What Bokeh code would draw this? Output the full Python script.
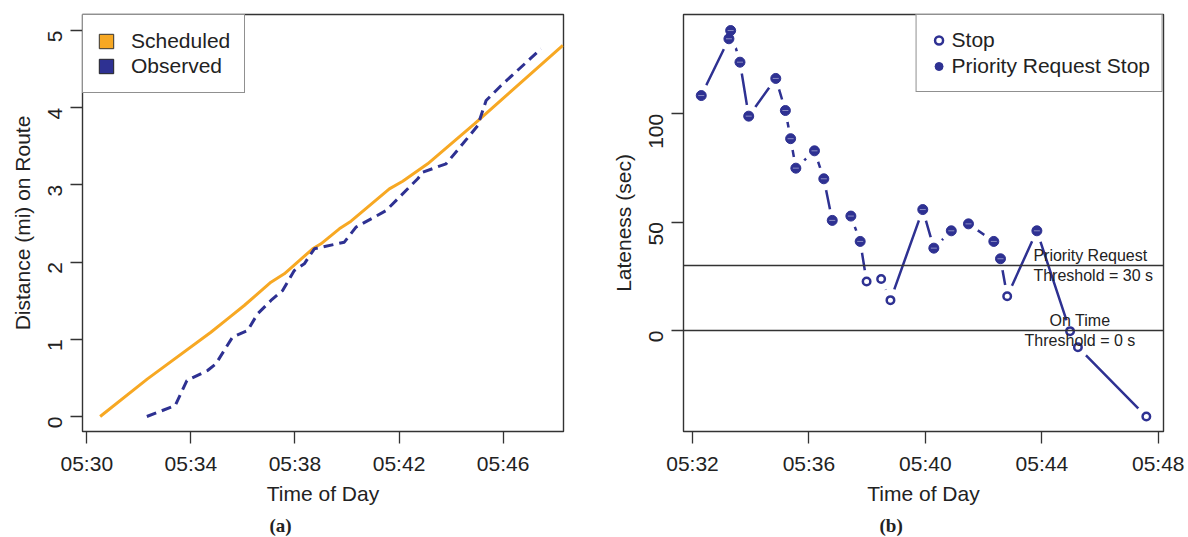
import math
from bokeh.plotting import figure
from bokeh.layouts import row
from bokeh.models import (ColumnDataSource, Range1d, FixedTicker, Legend, LegendItem,
                          Span, Label, Title)
from bokeh.embed import file_html
from bokeh.resources import INLINE

# ---------------- data: panel (a) ----------------
sched_t = [30.513, 32.333, 34.769, 35.41, 36.05, 37.077, 37.59, 38.68, 39.0, 39.705,
           40.154, 41.628, 42.141, 43.10, 44.897, 48.295]
sched_d = [0.0, 0.488, 1.092, 1.265, 1.438, 1.740, 1.848, 2.172, 2.237, 2.431,
           2.530, 2.949, 3.048, 3.273, 3.791, 4.806]
obs_t = [32.308, 33.397, 33.846, 34.641, 34.96, 35.60, 36.18, 36.564, 37.077, 37.526,
         37.974, 38.359, 38.744, 39.897, 40.346, 41.05, 41.5, 42.718, 42.91, 43.808,
         44.449, 45.026, 45.346, 45.923, 47.46]
obs_d = [0.0, 0.142, 0.466, 0.596, 0.682, 1.028, 1.114, 1.330, 1.503, 1.632,
         1.891, 1.978, 2.172, 2.258, 2.453, 2.582, 2.668, 3.079, 3.165, 3.273,
         3.532, 3.769, 4.093, 4.288, 4.763]
a_xticks = [30, 34, 38, 42, 46]
a_xlabels = ["05:30", "05:34", "05:38", "05:42", "05:46"]
a_yticks = [0, 1, 2, 3, 4, 5]

# ---------------- data: panel (b) ----------------
lat_t = [32.30, 33.25, 33.31, 33.63, 33.93, 34.86, 35.19, 35.37, 35.55, 36.19,
         36.51, 36.80, 37.44, 37.76, 37.98, 38.48, 38.80, 39.91, 40.29, 40.89,
         41.48, 42.35, 42.58, 42.81, 43.83, 44.97, 45.24, 47.59]
lat_s = [108.4, 134.6, 138.4, 123.8, 98.9, 116.3, 101.5, 88.5, 74.9, 82.9,
         70.0, 50.8, 52.8, 41.1, 22.6, 23.8, 14.0, 55.8, 38.0, 46.0,
         49.2, 41.1, 33.1, 15.8, 46.0, -0.3, -7.7, -39.7]
priority = [1, 1, 1, 1, 1, 1, 1, 1, 1, 1, 1, 1, 1, 1, 0, 0, 0, 1, 1, 1,
            1, 1, 1, 0, 1, 0, 0, 0]
b_xticks = [32, 36, 40, 44, 48]
b_xlabels = ["05:32", "05:36", "05:40", "05:44", "05:48"]
b_yticks = [0, 50, 100]
thresholds = [30, 0]

ORANGE = "#F7A823"
BLUE = "#2E3192"
INK = "#222222"
FONT = "Liberation Sans"
NAN = float("nan")


def style(p, xticks, xlabels, yticks, xlabel, ylabel):
    p.grid.visible = False
    p.outline_line_color = "#333333"
    p.outline_line_width = 1.4
    p.background_fill_color = "white"
    p.border_fill_color = "white"
    p.xaxis.ticker = FixedTicker(ticks=xticks)
    p.xaxis.major_label_overrides = {t: l for t, l in zip(xticks, xlabels)}
    p.yaxis.ticker = FixedTicker(ticks=yticks)
    p.yaxis.major_label_orientation = math.pi / 2
    p.xaxis.axis_label = xlabel
    p.yaxis.axis_label = ylabel
    for ax in (p.xaxis[0], p.yaxis[0]):
        ax.axis_line_color = None
        ax.major_tick_out = 12
        ax.major_tick_in = 0
        ax.minor_tick_out = 0
        ax.minor_tick_in = 0
        ax.major_tick_line_color = "#333333"
        ax.major_tick_line_width = 1.3
        ax.major_label_text_font = FONT
        ax.major_label_text_font_size = "21px"
        ax.major_label_text_color = INK
        ax.axis_label_text_font = FONT
        ax.axis_label_text_font_size = "21px"
        ax.axis_label_text_font_style = "normal"
        ax.axis_label_text_color = INK
    p.xaxis.major_label_standoff = 8
    p.xaxis.axis_label_standoff = 4
    p.yaxis.major_label_standoff = 15
    p.yaxis.axis_label_standoff = 5


# ---------------- panel (a) ----------------
pa = figure(frame_width=481, frame_height=417, min_border_left=82, min_border_right=41,
            min_border_top=14, min_border_bottom=104,
            x_range=Range1d(29.835, 48.32), y_range=Range1d(-0.194, 5.207),
            output_backend="svg", toolbar_location=None)
style(pa, a_xticks, a_xlabels, a_yticks, "Time of Day", "Distance (mi) on Route")

pa.line(sched_t, sched_d, line_color=ORANGE, line_width=3)
pa.line(obs_t, obs_d, line_color=BLUE, line_width=3, line_dash="10 6")

leg_s = pa.quad(left=[NAN], right=[NAN], top=[NAN], bottom=[NAN],
                fill_color=ORANGE, line_color="#333333", line_width=1)
leg_o = pa.quad(left=[NAN], right=[NAN], top=[NAN], bottom=[NAN],
                fill_color=BLUE, line_color="#222222", line_width=1)
lega = Legend(items=[LegendItem(label="Scheduled", renderers=[leg_s]),
                     LegendItem(label="Observed", renderers=[leg_o])],
              location="top_left", margin=0, padding=14, spacing=1,
              glyph_width=18, glyph_height=18, label_standoff=16,
              label_text_font=FONT, label_text_font_size="21px", label_text_color=INK,
              border_line_color="#222222", border_line_width=1.4,
              background_fill_color="white", background_fill_alpha=1.0)
pa.add_layout(lega)
pa.add_layout(Title(text="(a)", align="left", offset=187, text_font="Liberation Serif",
                    text_font_size="19px", text_font_style="bold", text_color=INK, standoff=10),
              "below")

# ---------------- panel (b) ----------------
pb = figure(frame_width=480, frame_height=417, min_border_left=79, min_border_right=23,
            min_border_top=14, min_border_bottom=104,
            x_range=Range1d(31.69, 48.18), y_range=Range1d(-46.6, 145.8),
            output_backend="svg", toolbar_location=None)
style(pb, b_xticks, b_xlabels, b_yticks, "Time of Day", "Lateness (sec)")

src = ColumnDataSource(dict(t=lat_t, s=lat_s))
pri_src = ColumnDataSource(dict(t=[t for t, f in zip(lat_t, priority) if f],
                                s=[s for s, f in zip(lat_s, priority) if f]))
stop_src = ColumnDataSource(dict(t=[t for t, f in zip(lat_t, priority) if not f],
                                 s=[s for s, f in zip(lat_s, priority) if not f]))

# line with gaps around points (type "b")
pb.line("t", "s", source=src, line_color=BLUE, line_width=2.5)
pb.scatter("t", "s", source=src, marker="circle", size=23, fill_color="white", line_color=None)

for th in thresholds:
    pb.add_layout(Span(location=th, dimension="width", line_color="#333333", line_width=1.3))

r_stop = pb.scatter("t", "s", source=stop_src, marker="circle", size=7.5,
                    fill_color="white", line_color=BLUE, line_width=2.5)
r_pri = pb.scatter("t", "s", source=pri_src, marker="circle", size=10,
                   fill_color=BLUE, line_color=BLUE, line_width=1)
pb.scatter("t", "s", source=pri_src, marker="dash", size=6, line_color="#8a8cc4", line_width=1)

pb.add_layout(Label(x=43.71, y=30, text="Priority Request\nThreshold = 30 s", text_align="left",
                    text_baseline="middle", text_font=FONT, text_font_size="16px", text_color=INK))
pb.add_layout(Label(x=45.31, y=0, text="On Time\nThreshold = 0 s", text_align="center",
                    text_baseline="middle", text_font=FONT, text_font_size="16px", text_color=INK))

legb = Legend(items=[LegendItem(label="Stop", renderers=[r_stop]),
                     LegendItem(label="Priority Request Stop", renderers=[r_pri])],
              location="top_right", margin=0, padding=12, spacing=0,
              glyph_width=20, glyph_height=26, label_standoff=3,
              label_text_font=FONT, label_text_font_size="21px", label_text_color=INK,
              border_line_color="#222222", border_line_width=1.4,
              background_fill_color="white", background_fill_alpha=1.0)
pb.add_layout(legb)
pb.add_layout(Title(text="(b)", align="left", offset=196, text_font="Liberation Serif",
                    text_font_size="19px", text_font_style="bold", text_color=INK, standoff=10),
              "below")

layout = row(pa, pb, spacing=0)
open("out.html", "w").write(file_html(layout, INLINE))
